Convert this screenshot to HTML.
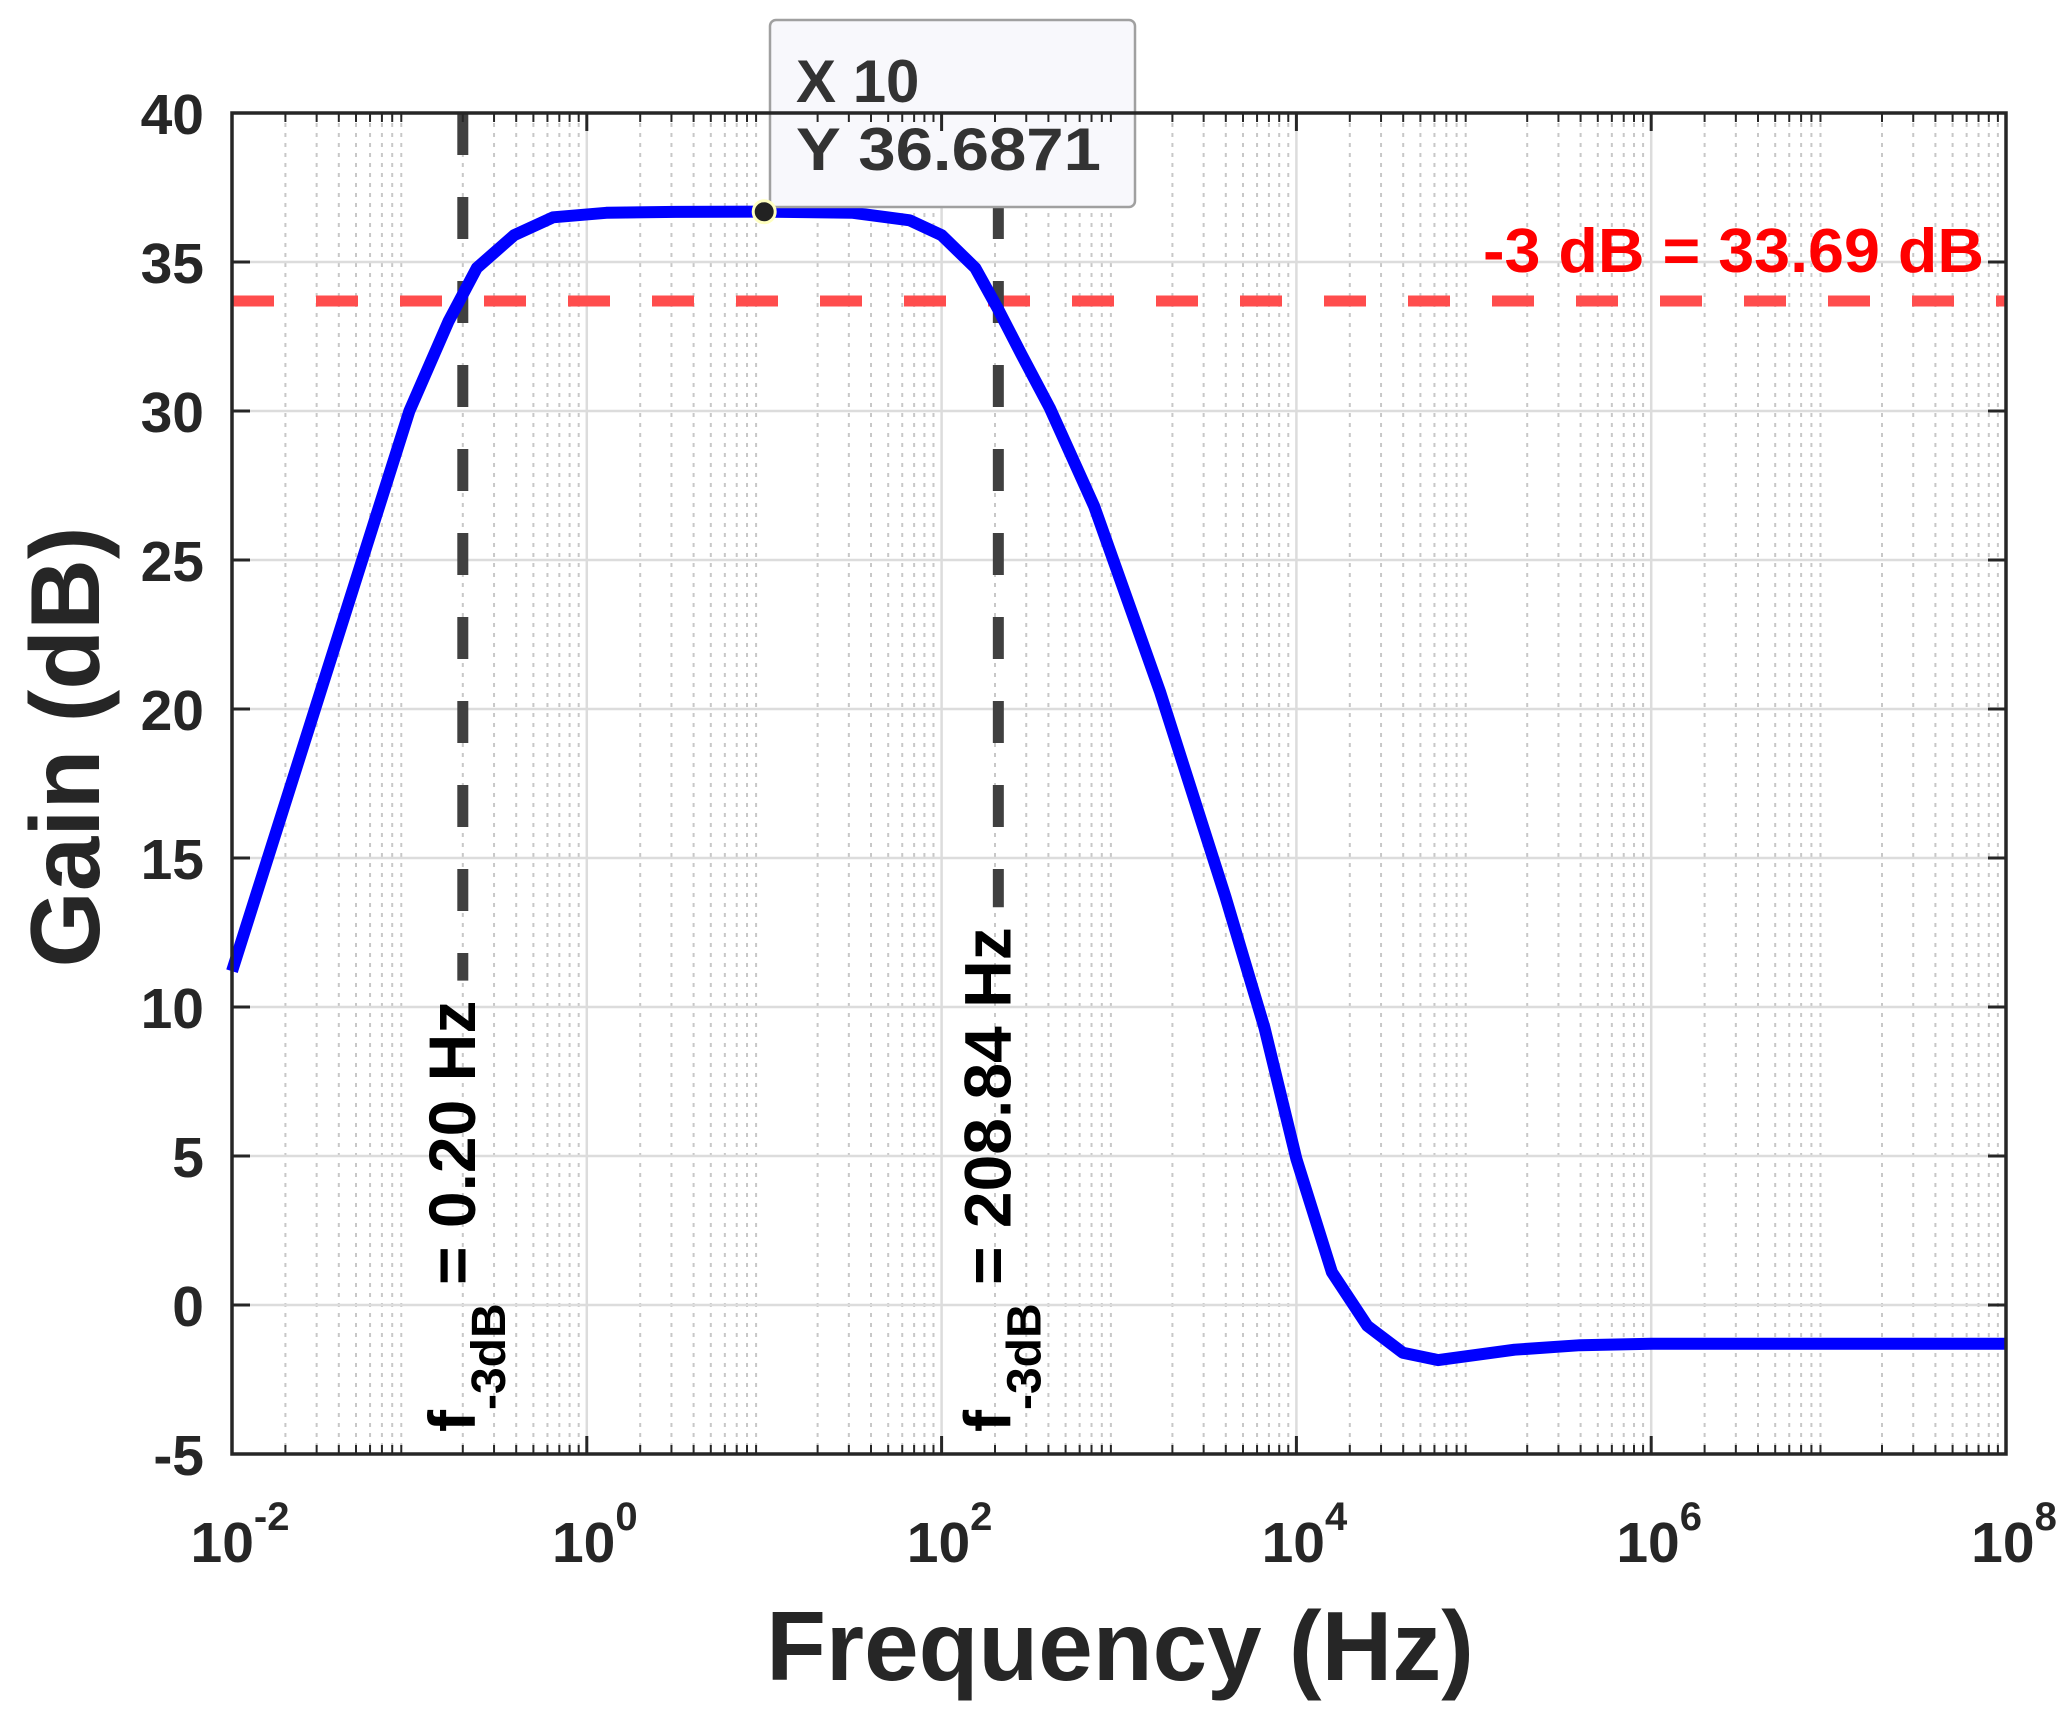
<!DOCTYPE html>
<html><head><meta charset="utf-8"><style>
html,body{margin:0;padding:0;background:#fff;}
svg{display:block;font-family:"Liberation Sans",Arial,sans-serif;font-weight:bold;}
</style></head><body>
<svg id="chart" width="2067" height="1732" viewBox="0 0 2067 1732" xmlns="http://www.w3.org/2000/svg">
<rect width="2067" height="1732" fill="#fff"/>
<g id="grid"></g>
<g id="marks"></g>
<g id="axes"></g>
</svg>
<script>
const logFreq = [-2,-1.5,-1,-0.78,-0.62,-0.41,-0.19,0.11,0.5,1,1.5,1.82,2.0,2.19,2.32,2.45,2.61,2.86,3.23,3.6,3.82,4.0,4.2,4.4,4.6,4.8,5.23,5.6,6,7,8];
const gainDb = [11.2,20.6,30.0,33.0,34.8,35.9,36.5,36.65,36.68,36.69,36.65,36.4,35.9,34.8,33.4,31.9,30.1,26.8,20.6,13.7,9.3,4.9,1.1,-0.7,-1.6,-1.85,-1.5,-1.35,-1.3,-1.3,-1.3];
const yTicks = [-5,0,5,10,15,20,25,30,35,40];
const xTickExp = [-2,0,2,4,6,8];
const cutoffFreqs = [0.20, 208.84];
const cutoffLabels = ["0.20 Hz","208.84 Hz"];
const refGain = 33.69;
const tipX = 10, tipY = 36.6871;

const L=232,R=2006,T=113,B=1454;
const xS = lf => L + (lf - (-2)) / 10 * (R - L);
const yS = g => T + (40 - g) / 45 * (B - T);
const NS="http://www.w3.org/2000/svg";
function mk(tag, attrs, parent, txt){const e=document.createElementNS(NS,tag);for(const k in attrs)e.setAttribute(k,attrs[k]);if(txt!==undefined)e.textContent=txt;parent.appendChild(e);return e;}
const grid=document.getElementById('grid'),marks=document.getElementById('marks'),axes=document.getElementById('axes');

for(let d=-2; d<8; d++){for(let m=2;m<=9;m++){const x=xS(d+Math.log10(m));
 const l=mk('line',{x1:x,x2:x,y1:T,y2:B,stroke:'#c8c8c8','stroke-width':2,'stroke-dasharray':'4 6'},grid);
 
 
 mk('line',{x1:x,x2:x,y1:B,y2:B-9,stroke:'#262626','stroke-width':2},axes);
 mk('line',{x1:x,x2:x,y1:T,y2:T+9,stroke:'#262626','stroke-width':2},axes);
}}
xTickExp.forEach(e=>{const x=xS(e);
 const l=mk('line',{x1:x,x2:x,y1:T,y2:B,stroke:'#dcdcdc','stroke-width':2.5},grid);
 
 
 mk('line',{x1:x,x2:x,y1:B,y2:B-18,stroke:'#262626','stroke-width':3},axes);
 mk('line',{x1:x,x2:x,y1:T,y2:T+18,stroke:'#262626','stroke-width':3},axes);
 const t=mk('text',{x:x+8,y:1562,'text-anchor':'middle','font-size':57,fill:'#262626'},axes);
 
 
 mk('tspan',{},t,'10');
 mk('tspan',{dy:-32,'font-size':40},t,String(e));
});
yTicks.forEach(v=>{const y=yS(v);
 const l=mk('line',{x1:L,x2:R,y1:y,y2:y,stroke:'#dcdcdc','stroke-width':2.5},grid);
 
 
 mk('line',{x1:L,x2:L+18,y1:y,y2:y,stroke:'#262626','stroke-width':3},axes);
 mk('line',{x1:R,x2:R-18,y1:y,y2:y,stroke:'#262626','stroke-width':3},axes);
 const t=mk('text',{x:204,y:y+21,'text-anchor':'end','font-size':57,fill:'#262626'},axes,String(v));
 
 
});
const box=mk('rect',{x:L,y:T,width:R-L,height:B-T,fill:'none',stroke:'#262626','stroke-width':3.5},axes);



const ref=mk('line',{x1:L,x2:R,y1:yS(refGain),y2:yS(refGain),stroke:'#ff4d4d','stroke-width':11,'stroke-dasharray':'42 42'},marks);


const rl=mk('text',{x:1984,y:272,'text-anchor':'end','font-size':62,fill:'#ff0000',textLength:501,lengthAdjust:'spacingAndGlyphs'},marks,'-3 dB = '+refGain.toFixed(2)+' dB');



cutoffFreqs.forEach((f,i)=>{const x=xS(Math.log10(f));
 const l=mk('line',{x1:x,x2:x,y1:T,y2:B,stroke:'#404040','stroke-width':11,'stroke-dasharray':'42 42'},marks);
 
 
 const bx=x+12;
 const g=mk('g',{transform:'translate('+bx+',1432) rotate(-90)'},marks);
 const t=mk('text',{x:0,y:0,'font-size':66,fill:'#000'},g);
 
 
 mk('tspan',{},t,'f');
 mk('tspan',{dy:30,'font-size':48},t,'-3dB');
 mk('tspan',{dy:-30},t,' = '+cutoffLabels[i]);
 const bb=t.getBBox();
 l.setAttribute('y2',1432-(bb.x+bb.width)-20);
});

let d='';logFreq.forEach((lf,i)=>{d+=(i?'L':'M')+xS(lf).toFixed(1)+','+yS(gainDb[i]).toFixed(1);});
const p=mk('path',{d:d,fill:'none',stroke:'#0000ff','stroke-width':12,'stroke-linejoin':'round'},marks);



const tx=xS(Math.log10(tipX)),ty=yS(tipY);
const tb=mk('rect',{x:770,y:20,width:365,height:187,rx:6,fill:'#f8f8fc',stroke:'#a0a0a0','stroke-width':2.5},marks);


const t1=mk('text',{x:796,y:102,'font-size':60,fill:'#333'},marks,'X '+tipX);


const t2=mk('text',{x:796,y:170,'font-size':60,fill:'#333',textLength:305,lengthAdjust:'spacingAndGlyphs'},marks,'Y '+tipY);


const dot=mk('circle',{cx:tx,cy:ty,r:11,fill:'#222',stroke:'#ffffc0','stroke-width':3},marks);



const xt=mk('text',{x:1120,y:1680,'text-anchor':'middle','font-size':98,fill:'#262626'},axes,'Frequency (Hz)');


const yt=mk('text',{transform:'translate(99,747) rotate(-90)','text-anchor':'middle','font-size':98,fill:'#262626'},axes,'Gain (dB)');


</script>
</body></html>
